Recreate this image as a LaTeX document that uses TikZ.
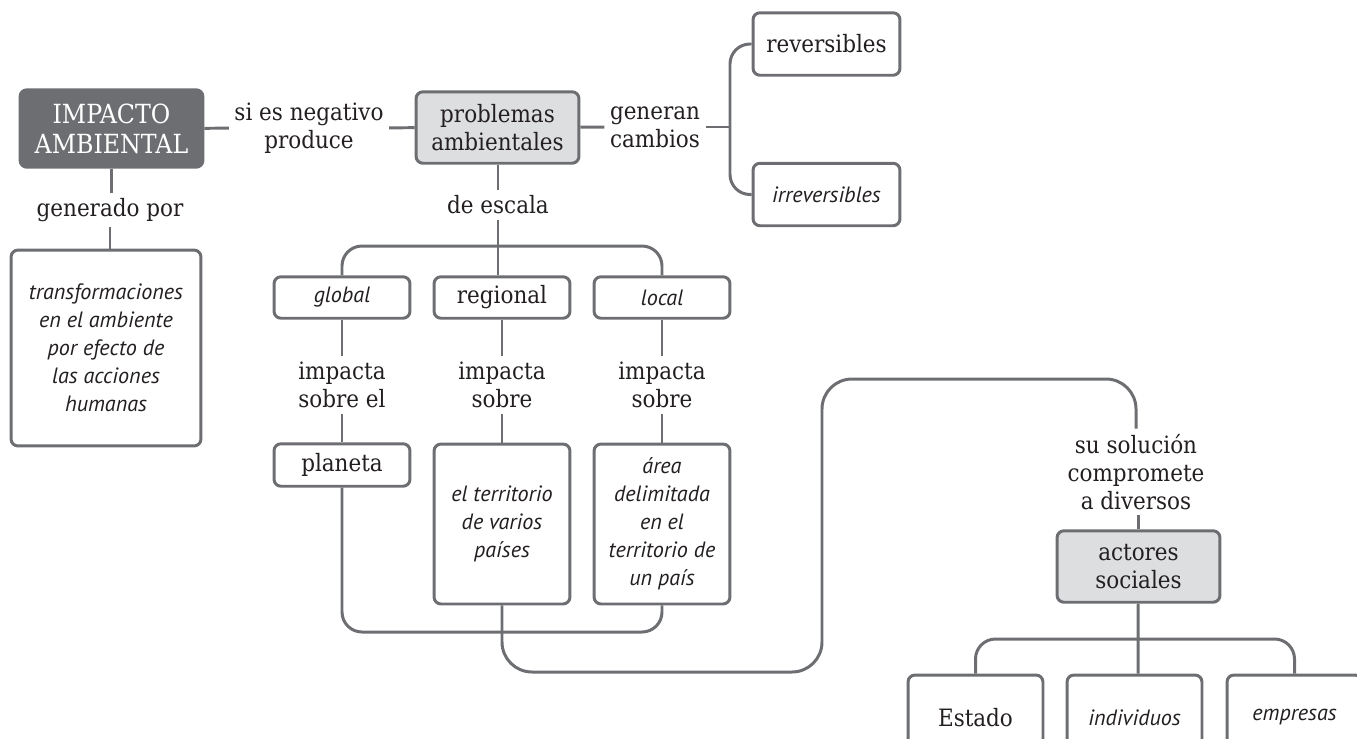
\documentclass[tikz,border=0pt]{standalone}
\usepackage{fontspec}
\setmainfont{DejaVu Serif Condensed}
\newfontfamily\cursiva{PT Sans}
\usetikzlibrary{positioning}

\definecolor{gris}{RGB}{109,110,113}
\definecolor{grisclaro}{RGB}{221,222,224}
\definecolor{texto}{RGB}{35,31,32}

\newcommand{\recta}{\fontsize{13.6}{16}\selectfont}
\newcommand{\curs}{\cursiva\itshape\fontsize{12.6}{16}\selectfont}

\tikzset{
  linea/.style={draw=gris, line width=1.7pt},
  caja/.style={draw=gris, line width=1.7pt, rounded corners=4pt, fill=white,
    align=center, inner sep=2pt, text=texto, font=\recta},
  cajagris/.style={caja, fill=grisclaro},
  cajaoscura/.style={caja, fill=gris, text=white, font=\fontsize{15}{17}\selectfont},
  cursiva/.style={font=\curs},
  etiqueta/.style={align=center, inner sep=3pt, text=texto, font=\recta}
}

\begin{document}
\begin{tikzpicture}[x=0.02cm, y=-0.02cm]
        \useasboundingbox (0,0) rectangle (1357,738);

        % Concepto principal y su definicion
        \node[cajaoscura, minimum width=3.66cm, minimum height=1.55cm] (impacto) at (111.5,128.5) {IMPACTO\\AMBIENTAL};
        \node[etiqueta] (generado) at (110,210) {generado por};
        \node[caja, cursiva, minimum width=3.8cm, minimum height=3.92cm] (transformaciones) at (106,348) {transformaciones\\en el ambiente\\por efecto de\\las acciones\\humanas};

        % Problemas ambientales
        \node[etiqueta] (negativo) at (309,128) {si es negativo\\produce};
        \node[cajagris, minimum width=3.26cm, minimum height=1.43cm] (problemas) at (497.5,127.5) {problemas\\ambientales};

        % Tipos de cambios
        \node[etiqueta] (generan) at (655,127) {generan\\cambios};
        \node[caja, minimum width=2.94cm, minimum height=1.25cm] (reversibles) at (826.5,44) {reversibles};
        \node[caja, cursiva, minimum width=2.94cm, minimum height=1.25cm] (irreversibles) at (826.5,194.5) {irreversibles};

        % Escalas
        \node[etiqueta] (escala) at (498,205) {de escala};
        \node[caja, cursiva, minimum width=2.72cm, minimum height=0.83cm] (global) at (342,297.5) {global};
        \node[caja, minimum width=2.72cm, minimum height=0.83cm] (regional) at (502,297.5) {regional};
        \node[caja, cursiva, minimum width=2.72cm, minimum height=0.83cm] (local) at (662,297.5) {local};

        % Sobre que impacta cada escala
        \node[etiqueta] (impacta1) at (342,385) {impacta\\sobre el};
        \node[etiqueta] (impacta2) at (502,385) {impacta\\sobre};
        \node[etiqueta] (impacta3) at (662,385) {impacta\\sobre};
        \node[caja, minimum width=2.72cm, minimum height=0.85cm] (planeta) at (342,465) {planeta};
        \node[caja, cursiva, minimum width=2.72cm, minimum height=3.2cm] (territorio) at (502,524) {el territorio\\de varios\\pa\'ises};
        \node[caja, cursiva, minimum width=2.72cm, minimum height=3.2cm] (area) at (662,524) {\'area\\delimitada\\en el\\territorio de\\un pa\'is};

        % Actores sociales
        \node[etiqueta] (solucion) at (1136,472) {su soluci\'on\\compromete\\a diversos};
        \node[cajagris, minimum width=3.26cm, minimum height=1.43cm] (actores) at (1138.5,566.5) {actores\\sociales};
        \node[caja, minimum width=2.7cm, minimum height=1.7cm] (estado) at (975.5,717.5) {Estado};
        \node[caja, cursiva, minimum width=2.7cm, minimum height=1.7cm] (individuos) at (1134.5,717.5) {individuos};
        \node[caja, cursiva, minimum width=2.7cm, minimum height=1.7cm] (empresas) at (1294.5,717.5) {empresas};

        % Puntos de las ramas
        \coordinate (rama) at (730,127);
        \coordinate (ramaescala) at (498,246);
        \coordinate (lazo) at (662,632);
        \coordinate (codo1) at (822,672);
        \coordinate (codo2) at (822,379);
        \coordinate (ramaactores) at (1138,639);

        % Conectores
        \draw[linea] (impacto.south |- impacto.south) -- (impacto.south |- generado.north);
        \draw[linea] (generado.south) -- (generado.south |- transformaciones.north);
        \draw[linea] (impacto) -- (negativo);
        \draw[linea] (negativo) -- (problemas);
        \draw[linea] (problemas) -- (generan);
        \draw[linea] (generan) -- (rama);
        \draw[linea, rounded corners=0.4cm] (reversibles.west) -| (rama) |- (irreversibles.west);
        \draw[linea] (problemas.south -| escala) -- (escala);
        \draw[linea] (escala) -- (ramaescala);
        \draw[linea, rounded corners=0.4cm] (global.north) |- (ramaescala) -| (local.north);
        \draw[linea] (ramaescala) -- (ramaescala |- regional.north);
        \draw[linea] (global) -- (impacta1);
        \draw[linea] (impacta1) -- (planeta);
        \draw[linea] (regional) -- (impacta2);
        \draw[linea] (impacta2) -- (territorio);
        \draw[linea] (local) -- (impacta3);
        \draw[linea] (impacta3) -- (area);
        \draw[linea, rounded corners=0.4cm] (planeta.south) |- (lazo) -- (area.south);
        \draw[linea, rounded corners=0.6cm] (territorio.south) |- (codo1) -- (codo2) -| (solucion.north);
        \draw[linea] (solucion.south -| actores) -- (actores);
        \draw[linea] (actores) -- (ramaactores) -- (ramaactores |- individuos.north);
        \draw[linea, rounded corners=0.4cm] (estado.north) |- (ramaactores) -| (empresas.north);
\end{tikzpicture}
\end{document}
